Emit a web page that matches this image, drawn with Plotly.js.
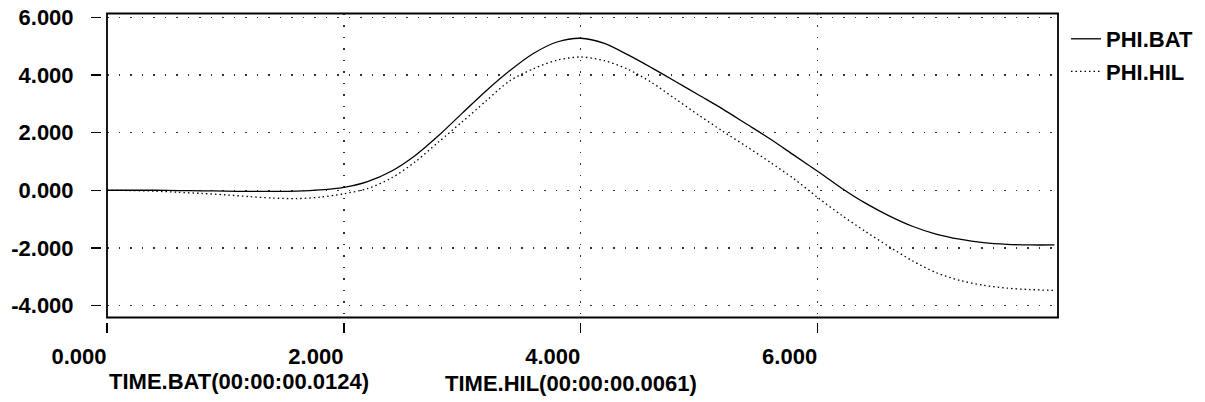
<!DOCTYPE html>
<html>
<head>
<meta charset="utf-8">
<script src="https://cdn.plot.ly/plotly-3.0.1.min.js"></script>
<style>
html,body{margin:0;padding:0;background:#fff;}
#chart{width:1205px;height:402px;}
</style>
</head>
<body>
<div id="chart"></div>
<script>
// ---- data ----
const time = [0.0,0.2,0.4,0.6,0.8,1.0,1.2,1.4,1.6,1.8,
              2.0,2.2,2.4,2.6,2.8,3.0,3.2,3.4,3.6,3.8,
              4.0,4.2,4.4,4.6,4.8,5.0,5.2,5.4,5.6,5.8,
              6.0,6.2,6.4,6.6,6.8,7.0,7.2,7.4,7.6,7.8,8.0];
const phiBat = [0.00,0.00,0.00,-0.01,-0.02,-0.03,-0.04,-0.04,-0.03,0.01,
                0.10,0.30,0.66,1.20,1.90,2.68,3.45,4.15,4.75,5.15,
                5.28,5.10,4.70,4.25,3.78,3.30,2.82,2.30,1.78,1.22,
                0.66,0.08,-0.44,-0.88,-1.25,-1.52,-1.70,-1.82,-1.88,-1.90,-1.90];
const phiHil = [0.00,-0.01,-0.03,-0.07,-0.11,-0.16,-0.22,-0.27,-0.29,-0.24,
                -0.12,0.06,0.42,0.98,1.68,2.38,3.10,3.80,4.22,4.52,
                4.63,4.50,4.20,3.74,3.17,2.60,2.05,1.52,0.97,0.40,
                -0.25,-0.86,-1.42,-1.95,-2.45,-2.86,-3.13,-3.30,-3.40,-3.45,-3.48];
const seriesNames = ['PHI.BAT','PHI.HIL'];
const xTickVals = [0,2,4,6];
const xTickText = ['0.000','2.000','4.000','6.000'];
const yTickVals = [-4,-2,0,2,4,6];
const yTickText = ['-4.000','-2.000','0.000','2.000','4.000','6.000'];
const xTitles = ['TIME.BAT(00:00:00.0124)','TIME.HIL(00:00:00.0061)'];

const FONT = 'Liberation Sans, Arial, Helvetica, sans-serif';
const W = 1205, H = 402;

const traces = [
  {x: time, y: phiBat, name: seriesNames[0], type: 'scatter', mode: 'lines',
   legendgroup: 'a',
   line: {color: '#000', width: 1.3, shape: 'spline', smoothing: 0.8}},
  {x: time, y: phiHil, name: seriesNames[1], type: 'scatter', mode: 'lines',
   legendgroup: 'b',
   line: {color: '#000', width: 1.3, dash: '1.5px,3px', shape: 'spline', smoothing: 0.8}}
];

const layout = {
  width: W, height: H,
  margin: {l: 0, r: 0, t: 0, b: 0},
  paper_bgcolor: '#fff', plot_bgcolor: '#fff',
  font: {family: FONT, size: 22, color: '#000', weight: 'bold'},
  showlegend: true,
  legend: {
    x: 1066 / W, xanchor: 'left', y: 1 - 18 / H, yanchor: 'top',
    bgcolor: 'rgba(0,0,0,0)', borderwidth: 0,
    font: {family: FONT, size: 22, color: '#000', weight: 'bold'},
    tracegroupgap: 1
  },
  xaxis: {
    domain: [107 / W, 1058 / W],
    range: [0, 8.03],
    anchor: 'free', position: 1 - 322 / H,
    showline: false, zeroline: false,
    ticks: 'outside', ticklen: 10, tickwidth: 1.5, tickcolor: '#000',
    tickvals: xTickVals, ticktext: xTickText,
    ticklabelshift: -28, ticklabelstandoff: 5,
    tickfont: {family: FONT, size: 22, color: '#000', weight: 'bold'},
    showgrid: true, gridcolor: '#333', gridwidth: 1.4, griddash: '1.5px,10px'
  },
  yaxis: {
    domain: [1 - 317.5 / H, 1 - 13.5 / H],
    range: [-4.42, 6.14],
    anchor: 'free', position: 101 / W,
    showline: false, zeroline: false,
    ticks: 'outside', ticklen: 10, tickwidth: 1.5, tickcolor: '#000',
    tickvals: yTickVals, ticktext: yTickText,
    ticklabelstandoff: 13,
    tickfont: {family: FONT, size: 22, color: '#000', weight: 'bold'},
    showgrid: true, gridcolor: '#333', gridwidth: 1.4, griddash: '1.5px,10px'
  },
  shapes: [
    {type: 'rect', xref: 'x domain', yref: 'y domain', x0: 0, x1: 1, y0: 0, y1: 1,
     line: {color: '#000', width: 1.8}, fillcolor: 'rgba(0,0,0,0)', layer: 'above'}
  ],
  annotations: [
    {text: xTitles[0], xref: 'paper', yref: 'paper', x: 239 / W, y: 1 - 381 / H,
     xanchor: 'center', yanchor: 'middle', showarrow: false,
     font: {family: FONT, size: 22, color: '#000', weight: 'bold'}},
    {text: xTitles[1], xref: 'paper', yref: 'paper', x: 571 / W, y: 1 - 383 / H,
     xanchor: 'center', yanchor: 'middle', showarrow: false,
     font: {family: FONT, size: 22, color: '#000', weight: 'bold'}}
  ]
};

Plotly.newPlot('chart', traces, layout, {staticPlot: true, displayModeBar: false});
</script>
</body>
</html>
